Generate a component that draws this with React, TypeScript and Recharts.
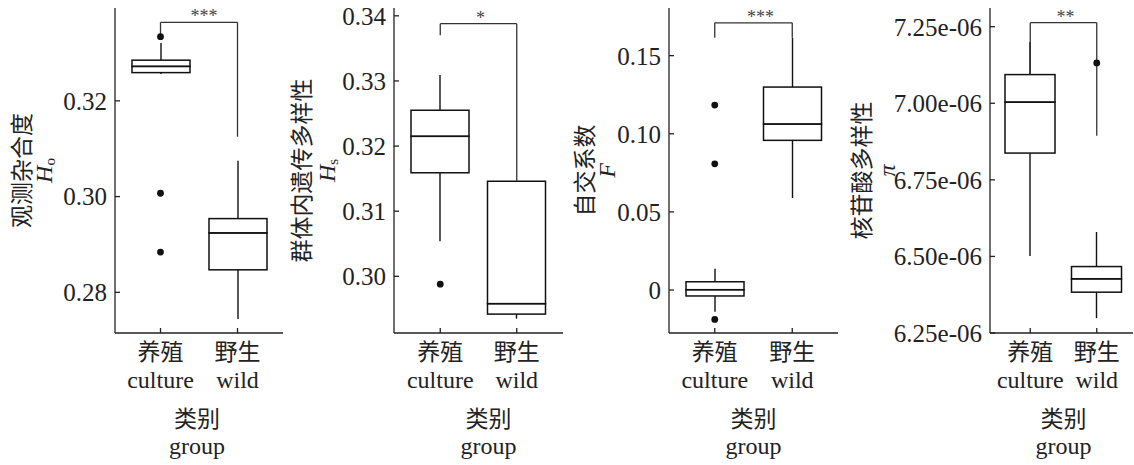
import React from 'react';
import { ComposedChart, Bar, XAxis, YAxis, ReferenceLine, ReferenceDot } from 'recharts';

// ---------- shared categories & titles ----------
const categories = ['culture', 'wild'];
const categoryZh = ['养殖', '野生'];
const groupTitleZh = '类别';
const groupTitleEn = 'group';

// ---------- Panel 1: observed heterozygosity Ho ----------
const hoMin = [0.3256, 0.2744];
const hoQ1 = [0.3259, 0.2847];
const hoMedian = [0.3272, 0.2924];
const hoQ3 = [0.3285, 0.2954];
const hoMax = [0.3321, 0.3075];
const hoOutlierGroup = ['culture', 'culture', 'culture'];
const hoOutlierValue = [0.3334, 0.3007, 0.2884];
const hoBracket = [0.3334, 0.3364, 0.3125];
const hoTicks = [0.28, 0.3, 0.32];
const hoTickLabels = ['0.28', '0.30', '0.32'];

// ---------- Panel 2: within-population gene diversity Hs ----------
const hsMin = [0.3054, 0.2935];
const hsQ1 = [0.3159, 0.2942];
const hsMedian = [0.3215, 0.2958];
const hsQ3 = [0.3255, 0.3146];
const hsMax = [0.3309, 0.3146];
const hsOutlierGroup = ['culture'];
const hsOutlierValue = [0.2988];
const hsBracket = [0.337, 0.3388, 0.3146];
const hsTicks = [0.3, 0.31, 0.32, 0.33, 0.34];
const hsTickLabels = ['0.30', '0.31', '0.32', '0.33', '0.34'];

// ---------- Panel 3: inbreeding coefficient F ----------
const fMin = [-0.0139, 0.0589];
const fQ1 = [-0.0038, 0.0958];
const fMedian = [0.0002, 0.1062];
const fQ3 = [0.0053, 0.1299];
const fMax = [0.0136, 0.1615];
const fOutlierGroup = ['culture', 'culture', 'culture'];
const fOutlierValue = [0.1184, 0.0808, -0.0188];
const fBracket = [0.1615, 0.171, 0.1615];
const fTicks = [0, 0.05, 0.1, 0.15];
const fTickLabels = ['0', '0.05', '0.10', '0.15'];

// ---------- Panel 4: nucleotide diversity pi ----------
const piMin = [6.5017e-6, 6.2984e-6];
const piQ1 = [6.8374e-6, 6.3833e-6];
const piMedian = [7.0036e-6, 6.4268e-6];
const piQ3 = [7.0936e-6, 6.4669e-6];
const piMax = [7.2e-6, 6.5799e-6];
const piOutlierGroup = ['wild'];
const piOutlierValue = [7.1317e-6];
const piBracket = [7.0936e-6, 7.263e-6, 6.8938e-6];
const piTicks = [6.25e-6, 6.5e-6, 6.75e-6, 7.0e-6, 7.25e-6];
const piTickLabels = ['6.25e-06', '6.50e-06', '6.75e-06', '7.00e-06', '7.25e-06'];

// ---------- styles ----------
const INK = '#222';
const SERIF = "'Liberation Serif', 'Times New Roman', serif";
const CJK = "'Noto Sans CJK SC', sans-serif";
const H = 465;

const panels = [
  {
    key: 'ho', left: 0, width: 283, yWidth: 115, xPad: { left: 7, right: 7 }, barSize: 58,
    domain: [0.2715, 0.3394], ticks: hoTicks, tickLabels: hoTickLabels,
    min: hoMin, q1: hoQ1, med: hoMedian, q3: hoQ3, max: hoMax,
    outG: hoOutlierGroup, outV: hoOutlierValue, bracket: hoBracket, stars: '***', starDx: 5,
    zh: '观测杂合度', sym: 'H', sub: 'o', zhX: 20, symX: 44, titleDx: -2,
  },
  {
    key: 'hs', left: 283, width: 280, yWidth: 111, xPad: { left: 8, right: 8 }, barSize: 58,
    domain: [0.2913, 0.3412], ticks: hsTicks, tickLabels: hsTickLabels,
    min: hsMin, q1: hsQ1, med: hsMedian, q3: hsQ3, max: hsMax,
    outG: hsOutlierGroup, outV: hsOutlierValue, bracket: hsBracket, stars: '*', starDx: 2,
    zh: '群体内遗传多样性', sym: 'H', sub: 's', zhX: 17, symX: 44, titleDx: 10,
  },
  {
    key: 'f', left: 563, width: 275, yWidth: 106, xPad: { left: 7, right: 7 }, barSize: 58,
    domain: [-0.0275, 0.1805], ticks: fTicks, tickLabels: fTickLabels,
    min: fMin, q1: fQ1, med: fMedian, q3: fQ3, max: fMax,
    outG: fOutlierGroup, outV: fOutlierValue, bracket: fBracket, stars: '***', starDx: 7,
    zh: '自交系数', sym: 'F', sub: '', zhX: 20, symX: 44, titleDx: 0,
  },
  {
    key: 'pi', left: 839, width: 294, yWidth: 151, xPad: { left: 7, right: 3 }, barSize: 50,
    domain: [6.25e-6, 7.311e-6], ticks: piTicks, tickLabels: piTickLabels,
    min: piMin, q1: piQ1, med: piMedian, q3: piQ3, max: piMax,
    outG: piOutlierGroup, outV: piOutlierValue, bracket: piBracket, stars: '**', starDx: 2,
    zh: '核苷酸多样性', sym: 'π', sub: '', zhX: 21, symX: 48, titleDx: 2,
  },
];

const Whisker = (props: any) => {
  const { x, y, width, height } = props;
  if (x == null || y == null || !height) return <g />;
  const cx = x + width / 2;
  return <line x1={cx} x2={cx} y1={y} y2={y + height} stroke="#111" strokeWidth={1.4} />;
};

const BoxRect = (props: any) => {
  const { x, y, width, height } = props;
  if (x == null || y == null) return <g />;
  return <rect x={x} y={y} width={width} height={Math.max(0, height)} fill="none" stroke="#111" strokeWidth={1.5} />;
};

const Empty = () => <g />;

const CatTick = (props: any) => {
  const { x, y, payload } = props;
  const i = categories.indexOf(payload.value);
  return (
    <g>
      <text x={x} y={y + 26.5} textAnchor="middle" fontSize={23} fontFamily={CJK} fill={INK}>{categoryZh[i]}</text>
      <text x={x} y={y + 54.5} textAnchor="middle" fontSize={24} fontFamily={SERIF} fill={INK}>{categories[i]}</text>
    </g>
  );
};

function BoxPanel({ p }: { p: any }) {
  const rows = categories.map((g, i) => ({
    g,
    base: p.min[i],
    lowW: p.q1[i] - p.min[i],
    lowBox: p.med[i] - p.q1[i],
    highBox: p.q3[i] - p.med[i],
    highW: p.max[i] - p.q3[i],
  }));
  const [footL, top, footR] = p.bracket;

  const xTitle = (lp: any) => {
    const vb = lp.viewBox || {};
    const cx = vb.x + vb.width / 2 + p.titleDx;
    return (
      <g>
        <text x={cx} y={vb.y + 93.5} textAnchor="middle" fontSize={23} fontFamily={CJK} fill={INK}>{groupTitleZh}</text>
        <text x={cx} y={vb.y + 121} textAnchor="middle" fontSize={24} fontFamily={SERIF} fill={INK}>{groupTitleEn}</text>
      </g>
    );
  };

  const yTitle = (lp: any) => {
    const vb = lp.viewBox || {};
    const cy = vb.y + vb.height / 2;
    const zx = vb.x + p.zhX;
    const sx = vb.x + p.symX;
    return (
      <g>
        <text x={zx} y={cy} transform={`rotate(-90, ${zx}, ${cy})`} textAnchor="middle" dominantBaseline="central"
          fontSize={23} fontFamily={CJK} fill={INK}>{p.zh}</text>
        <text x={sx} y={cy} transform={`rotate(-90, ${sx}, ${cy})`} textAnchor="middle" dominantBaseline="central"
          fontSize={24} fontFamily={SERIF} fill={INK}>
          <tspan fontStyle="italic">{p.sym}</tspan>
          {p.sub ? <tspan fontSize={15} dy={6}>{p.sub}</tspan> : null}
        </text>
      </g>
    );
  };

  const starLabel = (lp: any) => {
    const vb = lp.viewBox || {};
    const cx = vb.x + (vb.width || 0) / 2 + p.starDx;
    return (
      <text x={cx} y={vb.y} textAnchor="middle" fontSize={18} fontFamily={SERIF} fill="#444">{p.stars}</text>
    );
  };

  const lineStyle = { stroke: '#333', strokeWidth: 1.3 };

  return (
    <div style={{ position: 'absolute', left: p.left, top: 0 }}>
      <ComposedChart width={p.width} height={H} data={rows} margin={{ top: 8, right: 0, bottom: 0, left: 0 }}>
        <XAxis
          dataKey="g"
          type="category"
          height={132}
          padding={p.xPad}
          interval={0}
          tickSize={-5}
          tickMargin={5}
          tick={<CatTick />}
          axisLine={{ stroke: INK, strokeWidth: 1.3 }}
          tickLine={{ stroke: INK, strokeWidth: 1.3 }}
          label={{ content: xTitle }}
        />
        <YAxis
          type="number"
          domain={p.domain}
          allowDataOverflow
          ticks={p.ticks}
          interval={0}
          width={p.yWidth}
          tickSize={-5}
          tickMargin={13}
          tickFormatter={(v: number) => p.tickLabels[p.ticks.indexOf(v)]}
          tick={{ fontSize: 25, fill: INK, fontFamily: SERIF }}
          axisLine={{ stroke: INK, strokeWidth: 1.3 }}
          tickLine={{ stroke: INK, strokeWidth: 1.3 }}
          label={{ content: yTitle }}
        />
        <Bar dataKey="base" stackId="b" barSize={p.barSize} fill="none" isAnimationActive={false} shape={Empty} />
        <Bar dataKey="lowW" stackId="b" barSize={p.barSize} isAnimationActive={false} shape={Whisker} />
        <Bar dataKey="lowBox" stackId="b" barSize={p.barSize} isAnimationActive={false} shape={BoxRect} />
        <Bar dataKey="highBox" stackId="b" barSize={p.barSize} isAnimationActive={false} shape={BoxRect} />
        <Bar dataKey="highW" stackId="b" barSize={p.barSize} isAnimationActive={false} shape={Whisker} />
        <ReferenceLine segment={[{ x: categories[0], y: footL }, { x: categories[0], y: top }]} {...lineStyle} />
        <ReferenceLine segment={[{ x: categories[0], y: top }, { x: categories[1], y: top }]} {...lineStyle}
          label={{ content: starLabel }} />
        <ReferenceLine segment={[{ x: categories[1], y: top }, { x: categories[1], y: footR }]} {...lineStyle} />
        {p.outV.map((v: number, i: number) => (
          <ReferenceDot key={i} x={p.outG[i]} y={v} r={3.4} fill="#111" stroke="none" />
        ))}
      </ComposedChart>
    </div>
  );
}

export default function App() {
  return (
    <div style={{ position: 'absolute', left: 0, top: 0, width: 1134, height: H, background: '#fff', overflow: 'hidden' }}>
      {panels.map((p) => (
        <BoxPanel key={p.key} p={p} />
      ))}
    </div>
  );
}
